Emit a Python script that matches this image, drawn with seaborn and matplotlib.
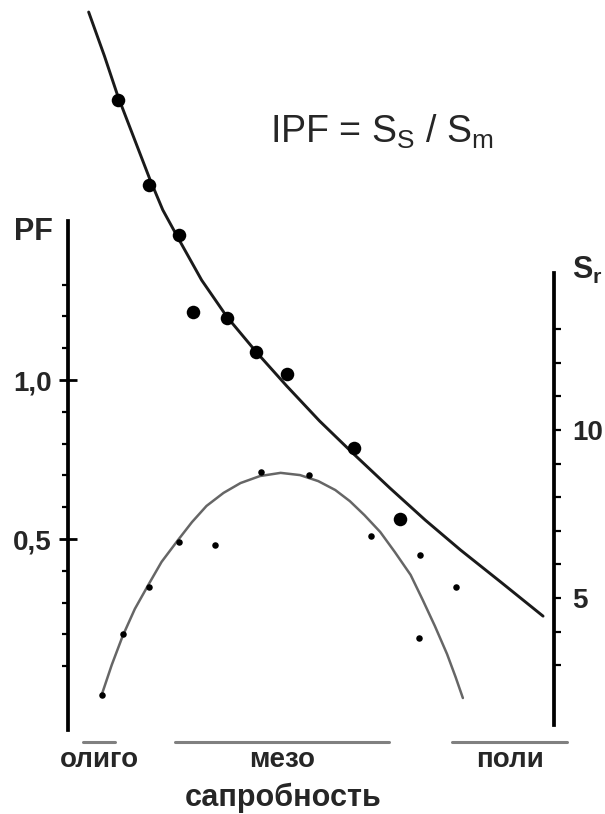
import matplotlib
matplotlib.use('Agg')
import matplotlib.pyplot as plt
import seaborn as sns
import numpy as np
import pandas as pd

# saprobity scale (x)
pf_curve_x = [0.28, 0.36, 0.45, 0.55, 0.66, 0.77, 0.90, 1.02, 1.14, 1.28, 1.42, 1.58, 1.75, 1.91,
              2.06, 2.20, 2.32, 2.44, 2.57, 2.69, 2.82, 2.92, 3.02, 3.12, 3.19, 3.25]
pf_curve_y = [0.013, 0.104, 0.195, 0.280, 0.355, 0.428, 0.494, 0.553, 0.604, 0.645, 0.676, 0.698, 0.708,
              0.701, 0.682, 0.654, 0.619, 0.575, 0.522, 0.459, 0.387, 0.308, 0.226, 0.138, 0.066, 0.000]
pf_x = [0.28, 0.45, 0.67, 0.91, 1.21, 1.59, 1.98, 2.49, 2.90, 3.19, 2.89]
pf_y = [0.01, 0.20, 0.35, 0.49, 0.48, 0.71, 0.70, 0.51, 0.45, 0.35, 0.19]

sr_curve_x = [0.17, 0.30, 0.41, 0.54, 0.67, 0.78, 0.91, 1.10, 1.31, 1.55, 1.80, 2.07,
              2.35, 2.65, 2.94, 3.23, 3.56, 3.91]
sr_curve_y = [22.44, 21.13, 19.94, 18.72, 17.50, 16.55, 15.69, 14.46, 13.36, 12.32, 11.31, 10.27,
              9.29, 8.27, 7.32, 6.43, 5.48, 4.46]
sr_x = [0.41, 0.67, 0.91, 1.03, 1.31, 1.55, 1.80, 2.35, 2.73]
sr_y = [19.82, 17.29, 15.80, 13.51, 13.33, 12.32, 11.67, 9.46, 7.35]

zone_names = ['олиго', 'мезо', 'поли']
zone_start = [0.12, 0.88, 3.16]
zone_end = [0.39, 2.64, 4.11]

pf_ticks = [0.5, 1.0]
pf_labels = ['0,5', '1,0']
pf_minor = [0.1, 0.2, 0.3, 0.4, 0.6, 0.7, 0.8, 0.9, 1.1, 1.2, 1.3]
sr_ticks = [5, 10]
sr_minor = [3, 4, 6, 7, 8, 9, 11, 12, 13]

sns.set_theme(style='white')
plt.rcParams['font.family'] = ['Liberation Sans', 'DejaVu Sans']
plt.rcParams['mathtext.default'] = 'regular'

fig = plt.figure(figsize=(6.05, 8.14), dpi=100)
ax = fig.add_axes([68 / 605, 84 / 814, 486 / 605, 730 / 814])
ax2 = ax.twinx()

pf_line = pd.DataFrame({'x': pf_curve_x, 'y': pf_curve_y})
sr_line = pd.DataFrame({'x': sr_curve_x, 'y': sr_curve_y})

sns.lineplot(data=pf_line, x='x', y='y', ax=ax, color='#666666', linewidth=1.8, sort=False)
sns.scatterplot(x=pf_x, y=pf_y, ax=ax, color='black', s=22, linewidth=0, zorder=3)
sns.lineplot(data=sr_line, x='x', y='y', ax=ax2, color='#1a1a1a', linewidth=2.1, sort=False)
sns.scatterplot(x=sr_x, y=sr_y, ax=ax2, color='black', s=95, linewidth=0, zorder=3)

ax.set_xlim(0, 4)
ax.set_ylim(-0.1006, 2.195)
ax2.set_ylim(1.071, 22.798)

for a in (ax, ax2):
    a.set_xlabel('')
    a.set_ylabel('')
    for s in ('top', 'bottom'):
        a.spines[s].set_visible(False)
    a.set_xticks([])
    a.grid(False)

ax.spines['right'].set_visible(False)
ax2.spines['left'].set_visible(False)
ax.spines['left'].set_bounds(-0.1, 1.5)
ax.spines['left'].set_linewidth(2.7)
ax.spines['left'].set_color('black')
ax2.spines['right'].set_bounds(1.22, 14.67)
ax2.spines['right'].set_linewidth(2.7)
ax2.spines['right'].set_color('black')

ax.set_yticks(pf_ticks)
ax.set_yticklabels(pf_labels)
ax.set_yticks(pf_minor, minor=True)
ax.tick_params(axis='y', which='major', direction='inout', length=13, width=2,
               color='black', labelsize=20, pad=5)
ax.tick_params(axis='y', which='minor', direction='out', length=4.5, width=1.6, color='black')
for t in ax.get_yticklabels():
    t.set_fontweight('bold')

ax2.set_yticks(sr_ticks)
ax2.set_yticklabels([str(v) for v in sr_ticks])
ax2.set_yticks(sr_minor, minor=True)
ax2.tick_params(axis='y', which='both', direction='out', length=5, width=1.6,
                color='black', labelsize=20, pad=8)
for t in ax2.get_yticklabels():
    t.set_fontweight('bold')

# saprobity zones below the plot
tr = ax.get_xaxis_transform()
for name, x0, x1 in zip(zone_names, zone_start, zone_end):
    ax.plot([x0, x1], [-0.0164, -0.0164], transform=tr, color='#808080',
            linewidth=2.2, clip_on=False)
    ax.text((x0 + x1) / 2, -0.041, name, transform=tr, ha='center', va='center',
            fontsize=20, fontweight='bold')
ax.text(1.77, -0.093, 'сапробность', transform=tr, ha='center', va='center',
        fontsize=22, fontweight='bold')

fig.text(33 / 605, 1 - 232 / 814, 'PF', ha='center', va='center', fontsize=22, fontweight='bold')
fig.text(572 / 605, 1 - 270 / 814, r'S$_{r}$', ha='left', va='center', fontsize=22, fontweight='bold')
fig.text(270 / 605, 1 - 143 / 814, r'IPF = S$_{S}$ / S$_{m}$', ha='left', va='baseline', fontsize=27)

fig.savefig('out.png', dpi=100)
